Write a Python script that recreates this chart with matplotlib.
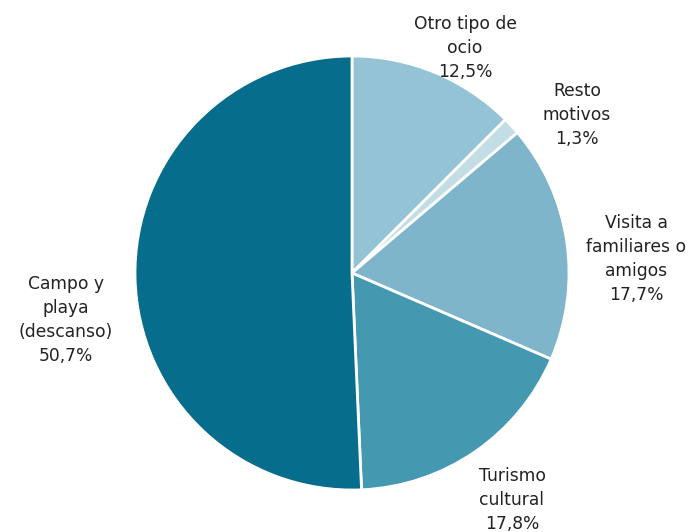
import matplotlib
matplotlib.use('Agg')
import matplotlib.pyplot as plt

# Motivo principal del viaje (% sobre el total)
categories = ['Otro tipo de\nocio', 'Resto\nmotivos', 'Visita a\nfamiliares o\namigos',
              'Turismo\ncultural', 'Campo y\nplaya\n(descanso)']
shares = [12.5, 1.3, 17.7, 17.8, 50.7]
colors = ['#93C3D5', '#C3DDE7', '#7FB5CB', '#4499B0', '#076D8C']

# label centres in pixel space (y measured from the top)
label_pos = [(465, 48), (577, 115), (636, 259), (512, 500), (66, 320)]

W, H = 694, 532
fig = plt.figure(figsize=(W / 100, H / 100), dpi=100)
ax = fig.add_axes([0, 0, 1, 1])

ax.pie(shares, colors=colors, startangle=90, counterclock=False,
       radius=217, center=(352, H - 273), frame=True,
       wedgeprops=dict(edgecolor='white', linewidth=2))
ax.set_xlim(0, W)
ax.set_ylim(0, H)
ax.set_aspect('equal')
ax.axis('off')

for cat, val, (x, y) in zip(categories, shares, label_pos):
    txt = f"{cat}\n{val:.1f}%".replace('.', ',')
    ax.text(x, H - y, txt, ha='center', va='center', fontsize=12.3,
            linespacing=1.45, color='#222222', family='DejaVu Sans')

fig.savefig('out.png', dpi=100)
